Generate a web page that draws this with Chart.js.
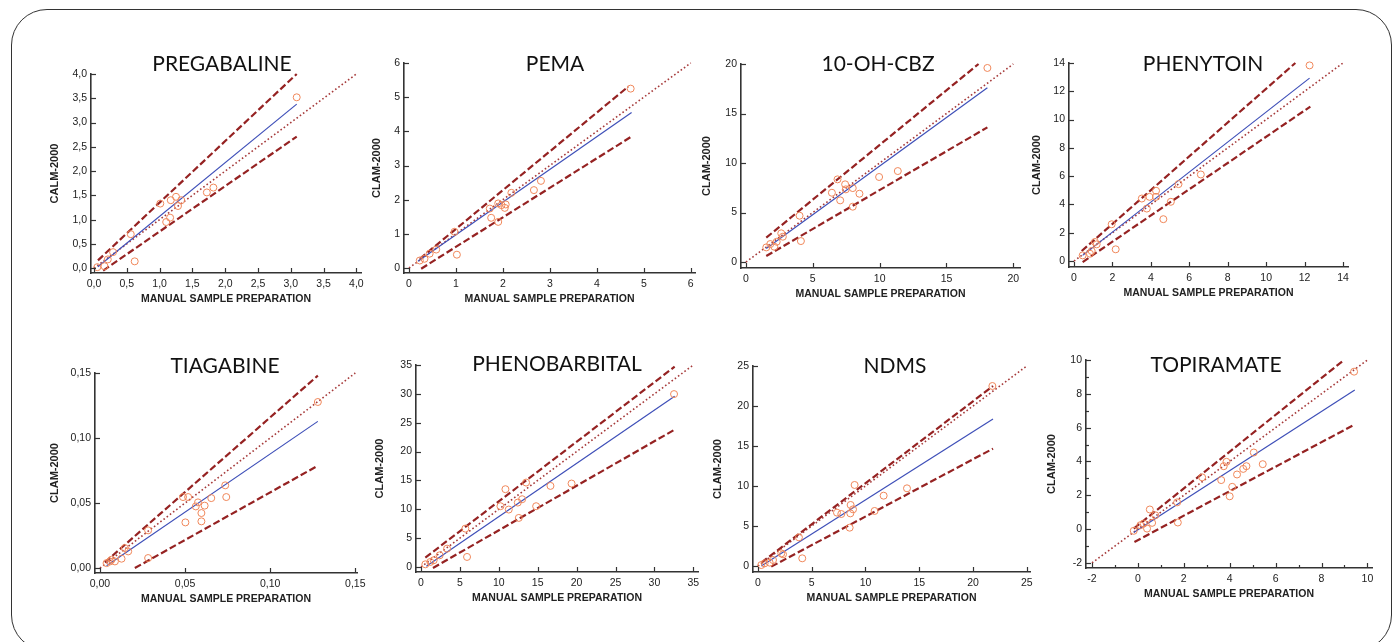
<!DOCTYPE html>
<html lang="en">
<head>
    <meta charset="utf-8" />
    <title>CLAM-2000 vs manual sample preparation</title>
    <script src="https://cdnjs.cloudflare.com/ajax/libs/Chart.js/4.4.0/chart.umd.js"></script>
    <style>
        body { margin: 0; background: #fff; width: 1399px; height: 642px; overflow: hidden; position: relative; }
        #frame { position: absolute; left: 11px; top: 9px; width: 1379px; height: 640px; border: 1.5px solid #333; border-radius: 36px; }
        canvas { position: absolute; }
    </style>
</head>
<body>
    <div id="frame"></div>
    <script>
        // PREGABALINE
        const pregX = [0.05, 0.16, 0.21, 0.29, 0.56, 0.62, 1.01, 1.10, 1.16, 1.17, 1.25, 1.28, 1.33, 1.72, 1.82, 3.09];
        const pregY = [0.02, 0.04, 0.18, 0.33, 0.70, 0.14, 1.33, 0.95, 1.04, 1.40, 1.47, 1.28, 1.40, 1.56, 1.66, 3.52];
        const pregFitX = [0.06, 3.09], pregFitY = [0.03, 3.38];
        const pregUpX = [0.06, 3.09], pregUpY = [0.16, 4.0];
        const pregLoX = [0.14, 3.09], pregLoY = [-0.05, 2.71];
        const pregId = [0, 4];
        const pregTicks = [0, 0.5, 1, 1.5, 2, 2.5, 3, 3.5, 4];

        // PEMA
        const pemaX = [0.23, 0.33, 0.44, 0.58, 0.97, 1.02, 1.72, 1.75, 1.90, 1.90, 1.97, 2.04, 2.06, 2.18, 2.66, 2.81, 4.72];
        const pemaY = [0.22, 0.27, 0.42, 0.54, 1.06, 0.39, 1.74, 1.47, 1.35, 1.89, 1.84, 1.76, 1.86, 2.20, 2.28, 2.55, 5.25];
        const pemaFitX = [0.19, 4.74], pemaFitY = [0.20, 4.55];
        const pemaUpX = [0.23, 4.67], pemaUpY = [0.27, 5.31];
        const pemaLoX = [0.26, 4.74], pemaLoY = [-0.02, 3.85];
        const pemaId = [0, 6];
        const pemaTicks = [0, 1, 2, 3, 4, 5, 6];

        // 10-OH-CBZ
        const cbzX = [1.52, 1.82, 2.12, 2.30, 2.64, 2.76, 4.01, 4.11, 6.43, 6.85, 7.05, 7.42, 7.47, 7.99, 7.99, 8.49, 9.96, 11.36, 18.06];
        const cbzY = [1.48, 1.82, 1.55, 2.05, 2.90, 2.56, 4.68, 2.12, 7.00, 8.35, 6.23, 7.85, 7.34, 7.47, 5.59, 6.90, 8.59, 9.19, 19.60];
        const cbzFitX = [1.52, 18.06], cbzFitY = [1.38, 17.6];
        const cbzUpX = [1.52, 17.4], cbzUpY = [2.46, 20.0];
        const cbzLoX = [1.52, 18.06], cbzLoY = [0.61, 13.6];
        const cbzId = [0, 20];
        const cbzTicks = [0, 5, 10, 15, 20];

        // PHENYTOIN
        const phtX = [0.45, 0.83, 0.92, 1.09, 1.18, 1.96, 2.17, 3.53, 3.79, 3.93, 4.27, 4.27, 4.65, 5.04, 5.44, 6.60, 12.26];
        const phtY = [0.40, 0.52, 0.71, 1.35, 1.18, 2.60, 0.83, 4.42, 3.71, 4.54, 4.97, 4.54, 2.96, 4.19, 5.44, 6.12, 13.83];
        const phtFitX = [0.45, 12.26], phtFitY = [0.40, 12.93];
        const phtUpX = [0.40, 11.52], phtUpY = [0.71, 14.0];
        const phtLoX = [0.45, 12.30], phtLoY = [-0.07, 10.92];
        const phtId = [0, 14];
        const phtTicks = [0, 2, 4, 6, 8, 10, 12, 14];

        // TIAGABINE
        const tgbX = [0.0039, 0.0059, 0.0068, 0.0088, 0.0127, 0.0146, 0.0166, 0.0283, 0.0283, 0.0488, 0.0502, 0.0518, 0.0563, 0.0576, 0.0596, 0.0596, 0.0615, 0.0654, 0.0736, 0.0742, 0.128];
        const tgbY = [0.0038, 0.0051, 0.0064, 0.0051, 0.0072, 0.0154, 0.0128, 0.0290, 0.0077, 0.0546, 0.0351, 0.0546, 0.0474, 0.0505, 0.0423, 0.0359, 0.0480, 0.0538, 0.0636, 0.0546, 0.1277];
        const tgbFitX = [0.0039, 0.128], tgbFitY = [0.0018, 0.1128];
        const tgbUpX = [0.0029, 0.128], tgbUpY = [0.0044, 0.148];
        const tgbLoX = [0.0205, 0.128], tgbLoY = [0.0, 0.0787];
        const tgbId = [0, 0.15];
        const tgbTicks = [0, 0.05, 0.10, 0.15];

        // PHENOBARBITAL
        const pbX = [0.56, 1.20, 1.63, 2.40, 3.35, 5.70, 5.92, 10.21, 10.85, 11.28, 12.44, 12.57, 13.00, 13.51, 14.80, 16.64, 19.35, 32.52];
        const pbY = [0.46, 0.87, 1.16, 2.02, 3.18, 6.65, 1.74, 10.53, 13.48, 9.95, 11.16, 8.50, 11.74, 14.63, 10.53, 14.05, 14.46, 29.96];
        const pbFitX = [0.69, 32.6], pbFitY = [0.12, 29.6];
        const pbUpX = [0.56, 32.6], pbUpY = [1.62, 34.7];
        const pbLoX = [1.54, 32.6], pbLoY = [-0.17, 23.8];
        const pbId = [0, 35];
        const pbTicks = [0, 5, 10, 15, 20, 25, 30, 35];

        // NDMS
        const ndmsX = [0.31, 0.62, 1.09, 1.40, 2.17, 2.33, 3.81, 4.12, 7.35, 7.75, 8.53, 8.59, 8.62, 8.84, 8.99, 10.85, 11.69, 13.86, 21.80];
        const ndmsY = [0.12, 0.33, 0.42, 0.75, 1.58, 1.46, 3.58, 0.96, 6.67, 6.50, 4.79, 6.58, 7.63, 7.08, 10.13, 6.88, 8.79, 9.71, 22.50];
        const ndmsFitX = [0.31, 21.86], ndmsFitY = [0.0, 18.38];
        const ndmsUpX = [0.31, 21.86], ndmsUpY = [0.42, 22.5];
        const ndmsLoX = [1.24, 21.86], ndmsLoY = [-0.08, 14.67];
        const ndmsId = [0, 25];
        const ndmsTicks = [0, 5, 10, 15, 20, 25];

        // TOPIRAMATE
        const tpmX = [-0.18, 0.11, 0.25, 0.40, 0.52, 0.62, 0.76, 1.71, 1.74, 2.80, 3.63, 3.74, 3.86, 4.00, 4.11, 4.32, 4.59, 4.73, 5.05, 5.44, 9.42];
        const tpmY = [-0.10, 0.23, 0.33, 0.03, 1.16, 0.37, 0.82, 1.58, 0.39, 3.06, 2.90, 3.72, 3.98, 1.94, 2.50, 3.23, 3.56, 3.72, 4.53, 3.84, 9.31];
        const tpmFitX = [-0.18, 9.45], tpmFitY = [-0.20, 8.22];
        const tpmUpX = [-0.18, 8.98], tpmUpY = [0.03, 10.0];
        const tpmLoX = [-0.15, 9.45], tpmLoY = [-0.76, 6.19];
        const tpmId = [-2, 10];
        const tpmTicks = [-2, -1, 0, 1, 2, 3, 4, 5, 6, 7, 8, 9, 10];

        const xTitle = 'MANUAL SAMPLE PREPARATION';

        // layout of each panel (plot area in page pixels)
        const panels = [
            { title: 'PREGABALINE', yTitle: 'CALM-2000', x: pregX, y: pregY, fitX: pregFitX, fitY: pregFitY, upX: pregUpX, upY: pregUpY, loX: pregLoX, loY: pregLoY, id: pregId, ticks: pregTicks, dec: 1,
              area: [91, 74, 361, 273], gap: 36, xr: [-0.046, 4.07], yr: [-0.10, 4.0], tc: [222, 64] },
            { title: 'PEMA', yTitle: 'CLAM-2000', x: pemaX, y: pemaY, fitX: pemaFitX, fitY: pemaFitY, upX: pemaUpX, upY: pemaUpY, loX: pemaLoX, loY: pemaLoY, id: pemaId, ticks: pemaTicks, dec: 0,
              area: [404, 63, 695, 273], gap: 27, xr: [-0.106, 6.09], yr: [-0.146, 6], tc: [555, 64] },
            { title: '10-OH-CBZ', yTitle: 'CLAM-2000', x: cbzX, y: cbzY, fitX: cbzFitX, fitY: cbzFitY, upX: cbzUpX, upY: cbzUpY, loX: cbzLoX, loY: cbzLoY, id: cbzId, ticks: cbzTicks, dec: 0,
              area: [741, 64, 1020, 268], gap: 34, xr: [-0.37, 20.5], yr: [-0.6, 20], tc: [878, 64] },
            { title: 'PHENYTOIN', yTitle: 'CLAM-2000', x: phtX, y: phtY, fitX: phtFitX, fitY: phtFitY, upX: phtUpX, upY: phtUpY, loX: phtLoX, loY: phtLoY, id: phtId, ticks: phtTicks, dec: 0,
              area: [1069, 63, 1348, 267], gap: 32, xr: [-0.26, 14.26], yr: [-0.42, 14], tc: [1203, 64] },
            { title: 'TIAGABINE', yTitle: 'CLAM-2000', x: tgbX, y: tgbY, fitX: tgbFitX, fitY: tgbFitY, upX: tgbUpX, upY: tgbUpY, loX: tgbLoX, loY: tgbLoY, id: tgbId, ticks: tgbTicks, dec: 2,
              area: [95, 373, 357, 573], gap: 40, xr: [-0.0029, 0.151], yr: [-0.0038, 0.15], tc: [225, 366] },
            { title: 'PHENOBARBITAL', yTitle: 'CLAM-2000', x: pbX, y: pbY, fitX: pbFitX, fitY: pbFitY, upX: pbUpX, upY: pbUpY, loX: pbLoX, loY: pbLoY, id: pbId, ticks: pbTicks, dec: 0,
              area: [416, 365, 698, 572], gap: 36, xr: [-0.64, 35.6], yr: [-0.87, 35], tc: [557, 364] },
            { title: 'NDMS', yTitle: 'CLAM-2000', x: ndmsX, y: ndmsY, fitX: ndmsFitX, fitY: ndmsFitY, upX: ndmsUpX, upY: ndmsUpY, loX: ndmsLoX, loY: ndmsLoY, id: ndmsId, ticks: ndmsTicks, dec: 0,
              area: [753, 366, 1030, 572], gap: 35, xr: [-0.46, 25.3], yr: [-0.75, 25], tc: [895, 366] },
            { title: 'TOPIRAMATE', yTitle: 'CLAM-2000', x: tpmX, y: tpmY, fitX: tpmFitX, fitY: tpmFitY, upX: tpmUpX, upY: tpmUpY, loX: tpmLoX, loY: tpmLoY, id: tpmId, ticks: tpmTicks, dec: 0, oddMinor: true,
              area: [1086, 360, 1372, 568], gap: 34, xr: [-2.26, 10.2], yr: [-2.3, 10], tc: [1216, 365] }
        ];

        const PAD_TOP = 30, PAD_RIGHT = 14, PAD_BOTTOM = 4, X_H = 32;

        // inward tick marks + panel title
        const panelDecor = {
            id: 'panelDecor',
            afterDraw(chart, args, opts) {
                const ctx = chart.ctx;
                const a = chart.chartArea;
                ctx.save();
                ctx.strokeStyle = '#333';
                ctx.lineWidth = 1.2;
                ['x', 'y'].forEach(k => {
                    const s = chart.scales[k];
                    s.ticks.forEach((t, i) => {
                        const len = (opts.oddMinor && i % 2 === 1) ? 3 : 5;
                        const p = Math.round(s.getPixelForValue(t.value)) + 0.5;
                        ctx.beginPath();
                        if (k === 'x') { ctx.moveTo(p, a.bottom); ctx.lineTo(p, a.bottom - len); }
                        else { ctx.moveTo(a.left, p); ctx.lineTo(a.left + len, p); }
                        ctx.stroke();
                    });
                });
                ctx.fillStyle = '#111';
                ctx.font = '21px Lato';
                ctx.textAlign = 'center';
                ctx.textBaseline = 'middle';
                ctx.fillText(opts.text, opts.cx, opts.cy);
                ctx.restore();
            }
        };

        const pts = (xs, ys) => xs.map((v, i) => ({ x: v, y: ys[i] }));

        panels.forEach(p => {
            const [l, t, r, b] = p.area;
            const left = Math.round(l - p.gap - 6.6);
            const top = t - PAD_TOP;
            const width = r + PAD_RIGHT - left;
            const height = b + X_H + PAD_BOTTOM - top;
            const yW = l - left;

            const cv = document.createElement('canvas');
            cv.width = width; cv.height = height;
            cv.style.left = left + 'px'; cv.style.top = top + 'px';
            cv.style.width = width + 'px'; cv.style.height = height + 'px';
            document.body.appendChild(cv);

            const fmt = v => {
                if (p.oddMinor && Math.abs(v % 2) === 1) return '';
                return v.toFixed(p.dec).replace('.', ',');
            };
            const lineDs = (data, color, width, dash, order) => ({
                type: 'line', data: data, borderColor: color, borderWidth: width, borderDash: dash,
                pointRadius: 0, fill: false, tension: 0, order: order, clip: false
            });

            new Chart(cv.getContext('2d'), {
                type: 'scatter',
                data: {
                    datasets: [
                        { data: pts(p.x, p.y), borderColor: '#f0875a', backgroundColor: 'rgba(0,0,0,0)', borderWidth: 1, pointRadius: 3.5, order: 0, clip: false },
                        lineDs(pts(p.fitX, p.fitY), '#3e4fb8', 1.2, [], 1),
                        lineDs(pts(p.upX, p.upY), '#952222', 2.2, [7, 3], 2),
                        lineDs(pts(p.loX, p.loY), '#952222', 2.2, [7, 3], 3),
                        lineDs(pts(p.id, p.id), '#a63a3a', 1.6, [1.6, 2.4], 4)
                    ]
                },
                options: {
                    responsive: false,
                    animation: false,
                    devicePixelRatio: 1,
                    events: [],
                    layout: { padding: { top: PAD_TOP, right: PAD_RIGHT, bottom: PAD_BOTTOM, left: 0 } },
                    plugins: {
                        legend: { display: false },
                        tooltip: { enabled: false },
                        panelDecor: { text: p.title, cx: p.tc[0] - left, cy: p.tc[1] - top, oddMinor: !!p.oddMinor }
                    },
                    scales: {
                        x: {
                            type: 'linear', min: p.xr[0], max: p.xr[1],
                            afterBuildTicks: s => { s.ticks = p.ticks.map(v => ({ value: v })); },
                            afterFit: s => { s.height = X_H; },
                            grid: { display: false, drawTicks: false },
                            border: { display: true, color: '#333', width: 1.6 },
                            ticks: { autoSkip: false, maxRotation: 0, padding: 5, color: '#222', font: { family: 'Liberation Sans', size: 10.5 }, callback: fmt },
                            title: { display: true, text: xTitle, color: '#222', padding: 0, font: { family: 'Liberation Sans', size: 10.5, weight: 'bold' } }
                        },
                        y: {
                            type: 'linear', min: p.yr[0], max: p.yr[1],
                            afterBuildTicks: s => { s.ticks = p.ticks.map(v => ({ value: v })); },
                            afterFit: s => { s.width = yW; },
                            grid: { display: false, drawTicks: false },
                            border: { display: true, color: '#333', width: 1.6 },
                            ticks: { autoSkip: false, padding: 4, color: '#222', font: { family: 'Liberation Sans', size: 10.5 }, callback: fmt },
                            title: { display: true, text: p.yTitle, color: '#222', padding: 0, font: { family: 'Liberation Sans', size: 11, weight: 'bold' } }
                        }
                    }
                },
                plugins: [panelDecor]
            });
        });
    </script>
</body>
</html>
